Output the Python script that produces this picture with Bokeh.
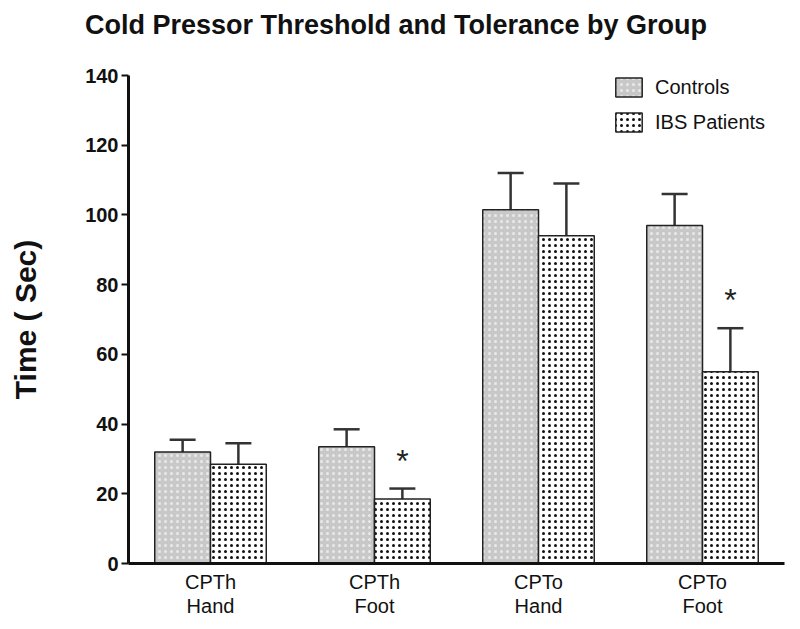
from bokeh.plotting import figure
from bokeh.models import ColumnDataSource, Whisker, Legend, LegendItem, FactorRange, Div
from bokeh.layouts import column
from bokeh.transform import dodge
from bokeh.core.properties import value
from bokeh.embed import file_html
from bokeh.resources import INLINE

title_text = "Cold Pressor Threshold and Tolerance by Group"
categories = ["CPTh\nHand", "CPTh\nFoot", "CPTo\nHand", "CPTo\nFoot"]
controls = [32, 33.5, 101.5, 97]
controls_err = [3.5, 5, 10.5, 9]
ibs = [28.5, 18.5, 94, 55]
ibs_err = [6, 3, 15, 12.5]
ibs_significant = [False, True, False, True]
y_ticks = [0, 20, 40, 60, 80, 100, 120, 140]

src_c = ColumnDataSource(dict(x=categories, top=controls,
                              upper=[v + e for v, e in zip(controls, controls_err)]))
src_i = ColumnDataSource(dict(x=categories, top=ibs,
                              upper=[v + e for v, e in zip(ibs, ibs_err)]))
sig_x = [c for c, s in zip(categories, ibs_significant) if s]
sig_y = [v + e + 8 for v, e, s in zip(ibs, ibs_err, ibs_significant) if s]
src_s = ColumnDataSource(dict(x=sig_x, y=sig_y, t=["*"] * len(sig_x)))

title_div = Div(text=title_text, width=792, height=44, margin=0,
                styles={"font-family": "Liberation Sans", "font-size": "27px",
                        "font-weight": "bold", "color": "#111111", "text-align": "center",
                        "width": "792px", "padding-top": "9px", "line-height": "32px"})

p = figure(width=792, height=577, x_range=FactorRange(*categories, range_padding=0),
           y_range=(0, 140), output_backend="svg", toolbar_location=None)
p.min_border_left = 128
p.min_border_right = 8
p.min_border_top = 31
p.min_border_bottom = 58
p.outline_line_color = None
p.grid.grid_line_color = None
p.background_fill_color = "white"
p.margin = 0

w = 0.34
rc = p.vbar(x=dodge("x", -w / 2, range=p.x_range), top="top", width=w, source=src_c,
            fill_color="#c8c8c8", line_color="#222222", line_width=1.5,
            hatch_pattern="dot", hatch_color="white", hatch_scale=6, hatch_weight=1.2, hatch_alpha=0.6)
ri = p.vbar(x=dodge("x", w / 2, range=p.x_range), top="top", width=w, source=src_i,
            fill_color="white", line_color="#222222", line_width=1.5,
            hatch_pattern="dot", hatch_color="#111111", hatch_scale=6, hatch_weight=6)

for src, off in ((src_c, -w / 2), (src_i, w / 2)):
    wk = Whisker(base=dodge("x", off, range=p.x_range), upper="upper", lower="top", source=src,
                 line_color="#333333", line_width=2.5, dimension="height")
    wk.upper_head.size = 26
    wk.upper_head.line_width = 2.5
    wk.upper_head.line_color = "#333333"
    wk.lower_head = None
    p.add_layout(wk)

p.text(x=dodge("x", w / 2, range=p.x_range), y="y", text="t", source=src_s,
       text_font=value("Liberation Sans"), text_font_size="32px", text_align="center",
       text_baseline="middle", text_color="#222222")

p.yaxis.ticker = y_ticks
p.yaxis.axis_label = "Time ( Sec)"
p.yaxis.axis_label_text_font = "Liberation Sans"
p.yaxis.axis_label_text_font_size = "30px"
p.yaxis.axis_label_text_font_style = "bold"
p.yaxis.axis_label_text_color = "#111111"
p.yaxis.axis_label_standoff = 40
p.yaxis.major_label_text_font = "Liberation Sans"
p.yaxis.major_label_text_font_size = "20px"
p.yaxis.major_label_text_font_style = "bold"
p.yaxis.major_label_text_color = "#111111"
p.yaxis.major_label_standoff = 3
p.yaxis.major_tick_out = 7
p.yaxis.major_tick_in = 0
p.yaxis.minor_tick_line_color = None
p.axis.axis_line_width = 3
p.axis.axis_line_color = "#111111"
p.axis.major_tick_line_width = 2
p.axis.major_tick_line_color = "#111111"

p.xaxis.major_tick_line_color = None
p.xaxis.major_label_text_font = "Liberation Sans"
p.xaxis.major_label_text_font_size = "20px"
p.xaxis.major_label_text_line_height = 1.1
p.xaxis.major_label_text_color = "#111111"
p.xaxis.major_label_standoff = 1

legend = Legend(items=[LegendItem(label="Controls", renderers=[rc]),
                       LegendItem(label="IBS Patients", renderers=[ri])],
                location=(484, 429), border_line_color=None, background_fill_alpha=0,
                label_text_font="Liberation Sans", label_text_font_size="20px",
                label_text_color="#111111",
                glyph_width=33, glyph_height=24, spacing=11, label_standoff=10,
                margin=0, padding=0)
p.add_layout(legend)

layout = column(title_div, p, spacing=0)
open("out.html", "w").write(file_html(layout, INLINE))
